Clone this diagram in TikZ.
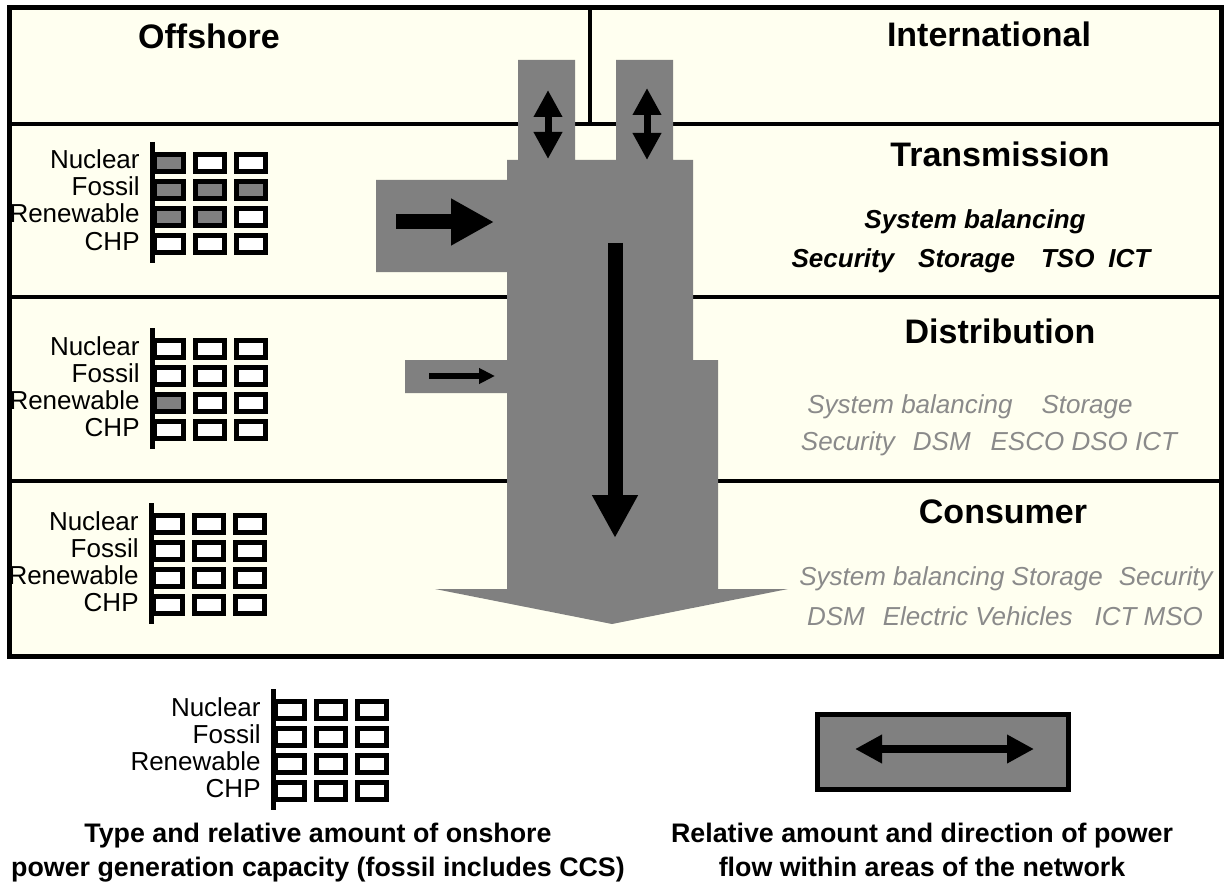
\documentclass[tikz,border=0pt]{standalone}
\usepackage{fontspec}
\setmainfont{Liberation Sans}
\usetikzlibrary{arrows.meta}
\definecolor{cream}{RGB}{255,255,240}
\definecolor{flowgray}{RGB}{128,128,128}
\definecolor{notegray}{RGB}{138,138,138}
\begin{document}
\begin{tikzpicture}[x=0.5pt,y=-0.5pt,
  area/.style={anchor=base,inner sep=0pt,font=\fontsize{17}{20}\selectfont\bfseries},
  fuel/.style={anchor=base east,inner sep=0pt,font=\fontsize{13}{15}\selectfont},
  duty/.style={anchor=base,inner sep=0pt,font=\fontsize{13}{15}\selectfont\bfseries\itshape},
  aux/.style={anchor=base,inner sep=0pt,text=notegray,font=\fontsize{13}{15}\selectfont\itshape},
  legendtext/.style={anchor=base,inner sep=0pt,font=\fontsize{13.4}{16}\selectfont\bfseries},
  cell/.style={line width=2.5pt,fill=white},
  bigtip/.style={-{Triangle[length=#1,width=#1]}}]
\useasboundingbox (0,0) rectangle (1225,882);
\fill[cream] (9,8) rectangle (1221,656);
\draw[line width=2pt] (9,124) -- (1221,124) (9,297) -- (1221,297) (9,481) -- (1221,481) (590,8) -- (590,124);
\fill[flowgray] (518,60) -- (575,60) -- (575,160) -- (616,160) -- (616,60) -- (673,60) -- (673,160)
  -- (693,160) -- (693,360) -- (718,360) -- (718,589) -- (788,589) -- (612,624) -- (435,589)
  -- (507,589) -- (507,393) -- (405,393) -- (405,360) -- (507,360) -- (507,272) -- (376,272)
  -- (376,180) -- (507,180) -- (507,160) -- (518,160) -- cycle;
\draw[line width=2.5pt] (9,8) rectangle (1221,656);
\node[area] (offshore) at (209,49) {Offshore};
\node[area] (international) at (989,47) {International};
\node[area] (transmission) at (1000,167) {Transmission};
\node[area] (distribution) at (1000,343) {Distribution};
\node[area] (consumer) at (1003,523) {Consumer};
\node[duty] (tsoa) at (975,228) {System balancing};
\node[duty] (tsob) at (971,268) {Security\hspace{12pt}Storage\hspace{13pt}TSO\hspace{7pt}ICT};
\node[aux] (dsoa) at (970,413) {System balancing\hspace{14.5pt}Storage};
\node[aux] (dsob) at (989,450) {Security\hspace{9pt}DSM\hspace{10pt}ESCO DSO ICT};
\node[aux] (msoa) at (1006,585) {System balancing Storage\hspace{8pt}Security};
\node[aux] (msob) at (1005,625) {DSM\hspace{9pt}Electric Vehicles\hspace{11pt}ICT MSO};
\foreach \gx/\gy/\gn in {152/152/tr,152/338/di,151/513/co,273/699/lg} {
  \draw[line width=2.5pt] (\gx,\gy-10) -- (\gx,\gy+111);
  \foreach \f [count=\i from 0] in {Nuclear,Fossil,Renewable,CHP}
    \node[fuel] (\gn-\i) at (\gx-12,\gy+17+27*\i) {\f};
  \foreach \c in {0,1,2}
    \foreach \r in {0,...,3}
      \draw[cell] (\gx+2.5+41*\c,\gy+2.5+27*\r) rectangle ++(29,17);
}
\foreach \c/\r in {0/0,0/1,1/1,2/1,0/2,1/2}
  \draw[cell,fill=flowgray] (154.5+41*\c,154.5+27*\r) rectangle ++(29,17);
\draw[cell,fill=flowgray] (154.5,394.5) rectangle ++(29,17);
\coordinate (txin) at (396,222);
\coordinate (txout) at (494,222);
\coordinate (dxin) at (429,376);
\coordinate (dxout) at (495,376);
\coordinate (downin) at (615,243);
\coordinate (downout) at (615,538);
\coordinate (ica) at (548,90);
\coordinate (icb) at (548,159);
\coordinate (idx) at (647,88);
\coordinate (idy) at (647,160);
\draw[line width=7.5pt,-{Triangle[length=21.5pt,width=22pt]}] (txin) -- (txout);
\draw[line width=3pt,-{Triangle[length=8pt,width=7.5pt]}] (dxin) -- (dxout);
\draw[line width=7.5pt,bigtip=21.5pt] (downin) -- (downout);
\draw[line width=3.5pt,{Triangle[length=13.5pt,width=13.5pt]}-{Triangle[length=13.5pt,width=13.5pt]}] (ica) -- (icb);
\draw[line width=3.5pt,{Triangle[length=13.5pt,width=13.5pt]}-{Triangle[length=13.5pt,width=13.5pt]}] (idx) -- (idy);
\draw[line width=2.5pt,fill=flowgray] (817.5,714.5) rectangle (1068.5,789.5);
\coordinate (lga) at (855,749);
\coordinate (lgb) at (1034,749);
\draw[line width=4pt,{Triangle[length=13.5pt,width=13.5pt]}-{Triangle[length=13.5pt,width=13.5pt]}] (lga) -- (lgb);
\node[legendtext] (capa) at (318,842) {Type and relative amount of onshore};
\node[legendtext] (capb) at (318,876) {power generation capacity (fossil includes CCS)};
\node[legendtext] (capc) at (922,842) {Relative amount and direction of power};
\node[legendtext] (capd) at (922,876) {flow within areas of the network};
\end{tikzpicture}
\end{document}
